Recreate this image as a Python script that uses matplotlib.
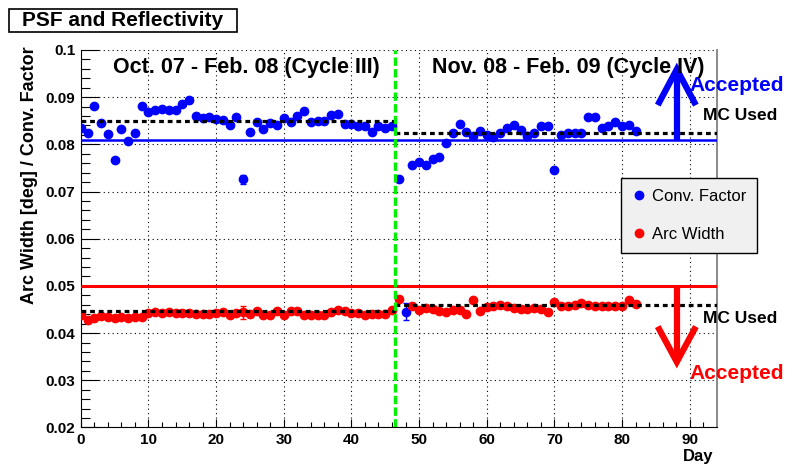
import matplotlib
matplotlib.use("Agg")
import matplotlib.pyplot as plt
import numpy as np
from matplotlib.lines import Line2D
from matplotlib.patches import Rectangle

# measurement days
day = list(range(83))

# PSF conversion factor per day
conv_factor = [
    0.0834, 0.0825, 0.0882, 0.0846, 0.0821, 0.0767, 0.0833, 0.0808, 0.0825, 0.0882,
    0.0869, 0.0872, 0.0874, 0.0872, 0.0872, 0.0886, 0.0893, 0.0861, 0.0855, 0.0857,
    0.0853, 0.0852, 0.0841, 0.0857, 0.0726, 0.0827, 0.0848, 0.0833, 0.0846, 0.0841,
    0.0856, 0.0848, 0.0860, 0.0870, 0.0848, 0.0850, 0.0850, 0.0862, 0.0865, 0.0844,
    0.0844, 0.0839, 0.0838, 0.0826, 0.0839, 0.0834, 0.0839, 0.0726, 0.0445, 0.0757,
    0.0763, 0.0756, 0.0770, 0.0773, 0.0802, 0.0825, 0.0844, 0.0827, 0.0817, 0.0829,
    0.0820, 0.0815, 0.0825, 0.0834, 0.0841, 0.0830, 0.0818, 0.0825, 0.0839, 0.0839,
    0.0745, 0.0819, 0.0823, 0.0823, 0.0823, 0.0858, 0.0857, 0.0835, 0.0838, 0.0847,
    0.0839, 0.0841, 0.0829,
]
conv_err = np.full(83, 0.0002)
conv_err[24] = 0.0010
conv_err[48] = 0.0018

# arc width (no entry for day 48)
arc_day = [d for d in day if d != 48]
arc_width = [
    0.0439, 0.0428, 0.0432, 0.0436, 0.0434, 0.0431, 0.0434, 0.0432, 0.0434, 0.0434,
    0.0443, 0.0444, 0.0443, 0.0444, 0.0443, 0.0443, 0.0443, 0.0441, 0.0440, 0.0441,
    0.0442, 0.0444, 0.0439, 0.0443, 0.0444, 0.0441, 0.0446, 0.0438, 0.0438, 0.0446,
    0.0439, 0.0446, 0.0447, 0.0438, 0.0438, 0.0439, 0.0438, 0.0445, 0.0450, 0.0446,
    0.0443, 0.0443, 0.0439, 0.0440, 0.0440, 0.0440, 0.0448, 0.0472,
    0.0457, 0.0448, 0.0454, 0.0452, 0.0446, 0.0444, 0.0448, 0.0448, 0.0441, 0.0470,
    0.0446, 0.0456, 0.0457, 0.0459, 0.0457, 0.0454, 0.0452, 0.0452, 0.0454, 0.0452,
    0.0444, 0.0466, 0.0458, 0.0457, 0.0459, 0.0464, 0.0459, 0.0458, 0.0457, 0.0457,
    0.0458, 0.0458, 0.0471, 0.0461,
]
arc_err = np.full(len(arc_day), 0.0002)
arc_err[24] = 0.0014

# acceptance cuts and MC values per cycle
cut_conv = 0.081
cut_arc = 0.050
cycle_break = 46.4
x_max = 94
mc_conv = [0.0850, 0.0825]
mc_arc = [0.0446, 0.0459]

y_ticks = [0.02, 0.03, 0.04, 0.05, 0.06, 0.07, 0.08, 0.09, 0.1]
y_tick_labels = ["0.02", "0.03", "0.04", "0.05", "0.06", "0.07", "0.08", "0.09", "0.1"]
x_ticks = [0, 10, 20, 30, 40, 50, 60, 70, 80, 90]

BLUE = "#0000ff"
RED = "#ff0000"
GREEN = "#00ee00"
plt.rcParams["font.family"] = ["Liberation Sans", "DejaVu Sans"]

fig = plt.figure(figsize=(7.89, 4.67), dpi=100)
ax = fig.add_axes([0.1024, 0.0846, 0.8060, 0.8084])
ax.set_xlim(0, x_max)
ax.set_ylim(0.02, 0.1)

ax.set_xticks(x_ticks)
ax.set_xticks(np.arange(0, x_max, 2), minor=True)
ax.set_yticks(y_ticks)
ax.set_yticklabels(y_tick_labels)
ax.set_yticks(np.arange(0.02, 0.1, 0.002), minor=True)
ax.tick_params(axis="x", which="major", direction="in", length=6, width=0.8, pad=4)
ax.tick_params(axis="x", which="minor", direction="in", length=3.5, width=0.8)
ax.tick_params(axis="y", which="major", direction="in", length=13, width=0.8, pad=4)
ax.tick_params(axis="y", which="minor", direction="in", length=6.5, width=0.8)
for lab in ax.get_xticklabels() + ax.get_yticklabels():
    lab.set_fontweight("bold")
    lab.set_fontsize(11)
ax.grid(True, which="major", color="black", linestyle=(0, (1, 3)), linewidth=0.8)
ax.set_axisbelow(True)
ax.spines["top"].set_visible(False)
ax.spines["right"].set_color("#808080")
ax.spines["right"].set_linewidth(1.3)

# cut lines
ax.axhline(cut_conv, color=BLUE, lw=1.8, zorder=3)
ax.axhline(cut_arc, color=RED, lw=2.2, zorder=3)

# data
ax.errorbar(day, conv_factor, yerr=conv_err, fmt="o", color=BLUE, ms=6,
            elinewidth=1, capsize=2, zorder=4)
ax.errorbar(arc_day, arc_width, yerr=arc_err, fmt="o", color=RED, ms=6,
            elinewidth=1, capsize=2, zorder=4)

# MC values used for each cycle
mc_style = dict(color="black", lw=2.3, linestyle=(0, (1.5, 1.2)), zorder=5)
for mc in (mc_conv, mc_arc):
    ax.plot([0, cycle_break], [mc[0], mc[0]], **mc_style)
    ax.plot([cycle_break, x_max], [mc[1], mc[1]], **mc_style)

ax.axvline(cycle_break, color=GREEN, lw=2.4, linestyle=(0, (2.5, 1)), zorder=6)

# acceptance arrows
arrow_x = 88.1
ax.plot([arrow_x, arrow_x], [cut_conv, 0.0953], color=BLUE, lw=4.5, solid_capstyle="butt", zorder=6)
ax.plot([85.5, arrow_x, 90.7], [0.0889, 0.0959, 0.0889], color=BLUE, lw=4.5,
        solid_joinstyle="miter", clip_on=False, zorder=6)
ax.plot([arrow_x, arrow_x], [cut_arc, 0.0345], color=RED, lw=4.5, solid_capstyle="butt", zorder=6)
ax.plot([85.5, arrow_x, 90.7], [0.0408, 0.0339, 0.0408], color=RED, lw=4.5,
        solid_joinstyle="miter", zorder=6)

ax.text(90.0, 0.0925, "Accepted", color=BLUE, fontsize=15, fontweight="bold",
        va="center", ha="left", clip_on=False, zorder=7)
ax.text(90.0, 0.0314, "Accepted", color=RED, fontsize=15, fontweight="bold",
        va="center", ha="left", clip_on=False, zorder=7)
ax.text(91.9, 0.0862, "MC Used", fontsize=12.5, fontweight="bold",
        va="center", ha="left", clip_on=False, zorder=7)
ax.text(91.9, 0.0430, "MC Used", fontsize=12.5, fontweight="bold",
        va="center", ha="left", clip_on=False, zorder=7)

ax.text(4.75, 0.0962, "Oct. 07 - Feb. 08 (Cycle III)", fontsize=15.5, fontweight="bold",
        va="center", ha="left", zorder=7)
ax.text(51.9, 0.0962, "Nov. 08 - Feb. 09 (Cycle IV)", fontsize=15.5, fontweight="bold",
        va="center", ha="left", zorder=7)

handles = [
    Line2D([], [], marker="o", ls="", color=BLUE, ms=6),
    Line2D([], [], marker="o", ls="", color=RED, ms=6),
]
leg = ax.legend(handles, ["Conv. Factor", "Arc Width"], loc="upper left",
                bbox_to_anchor=(621 / 789, 1 - 178 / 467), bbox_transform=fig.transFigure,
                fontsize=12, fancybox=False, edgecolor="black", facecolor="#f0f0f0",
                framealpha=1, borderpad=0.66, labelspacing=1.38, handlelength=0.8,
                handletextpad=0.4, borderaxespad=0)
leg.get_frame().set_linewidth(1.0)
leg.set_zorder(8)

# axis titles
fig.text(30 / 789, 1 - 175 / 467, "Arc Width [deg] / Conv. Factor", rotation=90,
         fontsize=13, fontweight="bold", ha="center", va="center")
fig.text(713 / 789, 1 - 457 / 467, "Day", fontsize=12,
         fontweight="bold", ha="right", va="center")

# title box
fig.patches.append(Rectangle((9 / 789, 1 - 32.3 / 467), 228 / 789, 23.3 / 467,
                             transform=fig.transFigure, facecolor="white",
                             edgecolor="black", lw=1.2))
fig.text(21.7 / 789, 1 - 20.5 / 467, "PSF and Reflectivity", fontsize=15,
         fontweight="bold", ha="left", va="center")

fig.savefig("out.png", dpi=100)
